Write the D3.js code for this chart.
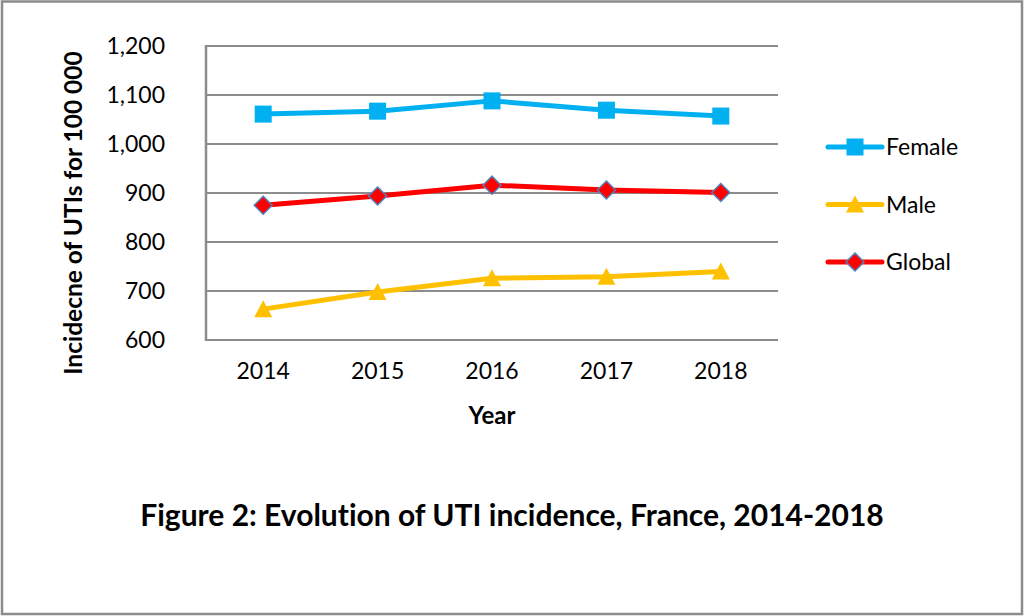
<!DOCTYPE html>
<html>
<head>
<meta charset="utf-8">
<script src="https://cdn.jsdelivr.net/npm/d3@7"></script>
<style>
  body { margin: 0; background: #fff; }
  text { font-family: Lato, "Open Sans", sans-serif; fill: #000; font-variant-ligatures: none; }
  .grid line { stroke: #8c8c8c; stroke-width: 2; }
</style>
</head>
<body>
<script>
//Chart data
const years = ['2014', '2015', '2016', '2017', '2018'];
const female = [1061, 1067, 1088, 1069, 1057];
const male = [663, 698, 726, 729, 740];
const global = [875, 894, 916, 906, 901];
const yTicks = [600, 700, 800, 900, 1000, 1100, 1200];

const width = 1024;
const height = 616;
const margin = { top: 46, right: 246, bottom: 276, left: 206 };

const series = [
    { name: 'Female', values: female, colour: '#00B0F0', shape: 'square' },
    { name: 'Male', values: male, colour: '#FFC000', shape: 'triangle' },
    { name: 'Global', values: global, colour: '#FF0000', shape: 'diamond' }
];

const svg = d3.select('body').append('svg')
    .attr('width', width)
    .attr('height', height);

//Outer frame
svg.append('rect')
    .attr('x', 2).attr('y', 1.5)
    .attr('width', width - 4).attr('height', height - 3.5)
    .attr('fill', '#fff')
    .attr('stroke', '#8c8c8c')
    .attr('stroke-width', 2.5);

//Scales
let x = d3.scaleBand()
    .domain(years)
    .range([margin.left, width - margin.right]);

let y = d3.scaleLinear()
    .domain([600, 1200])
    .range([height - margin.bottom, margin.top]);

//Gridlines
svg.append('g')
    .attr('class', 'grid')
    .selectAll('line')
    .data(yTicks)
    .enter()
    .append('line')
    .attr('x1', margin.left)
    .attr('x2', width - margin.right)
    .attr('y1', d => y(d))
    .attr('y2', d => y(d));

//Axis lines
svg.append('line')
    .attr('x1', margin.left).attr('x2', margin.left)
    .attr('y1', margin.top - 1).attr('y2', y(600) + 1)
    .attr('stroke', '#8c8c8c').attr('stroke-width', 2.5);

//Y axis labels
let yAxis = d3.axisLeft(y)
    .tickValues(yTicks)
    .tickSize(0)
    .tickPadding(41)
    .tickFormat(d3.format(','));

svg.append('g')
    .attr('transform', `translate(${margin.left}, 0)`)
    .call(yAxis)
    .call(g => g.select('.domain').remove())
    .selectAll('text')
    .style('font-size', '23px')
    .style('font-family', 'Lato, sans-serif')
    .attr('fill', '#000');

//X axis labels
let xAxis = d3.axisBottom(x)
    .tickSize(0)
    .tickPadding(23);

svg.append('g')
    .attr('transform', `translate(0, ${y(600)})`)
    .call(xAxis)
    .call(g => g.select('.domain').remove())
    .selectAll('text')
    .style('font-size', '23px')
    .style('font-family', 'Lato, sans-serif')
    .attr('fill', '#000');

//Axis titles
svg.append('text')
    .attr('transform', `translate(82, ${(margin.top + y(600)) / 2 + 20}) rotate(-90)`)
    .style('text-anchor', 'middle')
    .style('font-weight', 'bold')
    .style('font-size', '24.5px')
    .text('Incidecne of UTIs for 100 000');

svg.append('text')
    .attr('x', (margin.left + width - margin.right) / 2)
    .attr('y', 424)
    .style('text-anchor', 'middle')
    .style('font-weight', 'bold')
    .style('font-size', '24px')
    .text('Year');

//Figure caption
svg.append('text')
    .attr('x', 512)
    .attr('y', 526)
    .style('text-anchor', 'middle')
    .style('font-weight', 'bold')
    .style('font-size', '30px')
    .text('Figure 2: Evolution of UTI incidence, France, 2014-2018');

//Marker drawing
const drawMarker = function(g, shape, colour) {
    if (shape == 'square') {
        g.append('rect')
            .attr('x', -8.5).attr('y', -8.5)
            .attr('width', 17).attr('height', 17)
            .attr('fill', colour);
    } else if (shape == 'triangle') {
        g.append('path')
            .attr('d', 'M0,-9 L9,8 L-9,8 Z')
            .attr('fill', colour);
    } else {
        g.append('path')
            .attr('d', 'M0,-9 L9,0 L0,9 L-9,0 Z')
            .attr('fill', colour)
            .attr('stroke', '#4f81bd')
            .attr('stroke-width', 1.5);
    }
};

let line = d3.line()
    .x((d, i) => x(years[i]) + x.bandwidth() / 2)
    .y(d => y(d));

series.forEach(s => {
    svg.append('path')
        .attr('d', line(s.values))
        .attr('fill', 'none')
        .attr('stroke', s.colour)
        .attr('stroke-width', 5)
        .attr('stroke-linejoin', 'round');

    s.values.forEach((v, i) => {
        let g = svg.append('g')
            .attr('transform', `translate(${x(years[i]) + x.bandwidth() / 2}, ${y(v)})`);
        drawMarker(g, s.shape, s.colour);
    });
});

//Legend
let legend = svg.append('g')
    .attr('transform', 'translate(828, 147)');

series.forEach((s, i) => {
    let row = legend.append('g')
        .attr('transform', `translate(0, ${i * 57.5})`);
    row.append('line')
        .attr('x1', 0).attr('x2', 54)
        .attr('stroke', s.colour)
        .attr('stroke-width', 5)
        .attr('stroke-linecap', 'round');
    let m = row.append('g').attr('transform', 'translate(27, 0)');
    drawMarker(m, s.shape, s.colour);
    row.append('text')
        .attr('x', 58)
        .attr('y', 8)
        .style('font-size', '23px')
        .text(s.name);
});
</script>
</body>
</html>
